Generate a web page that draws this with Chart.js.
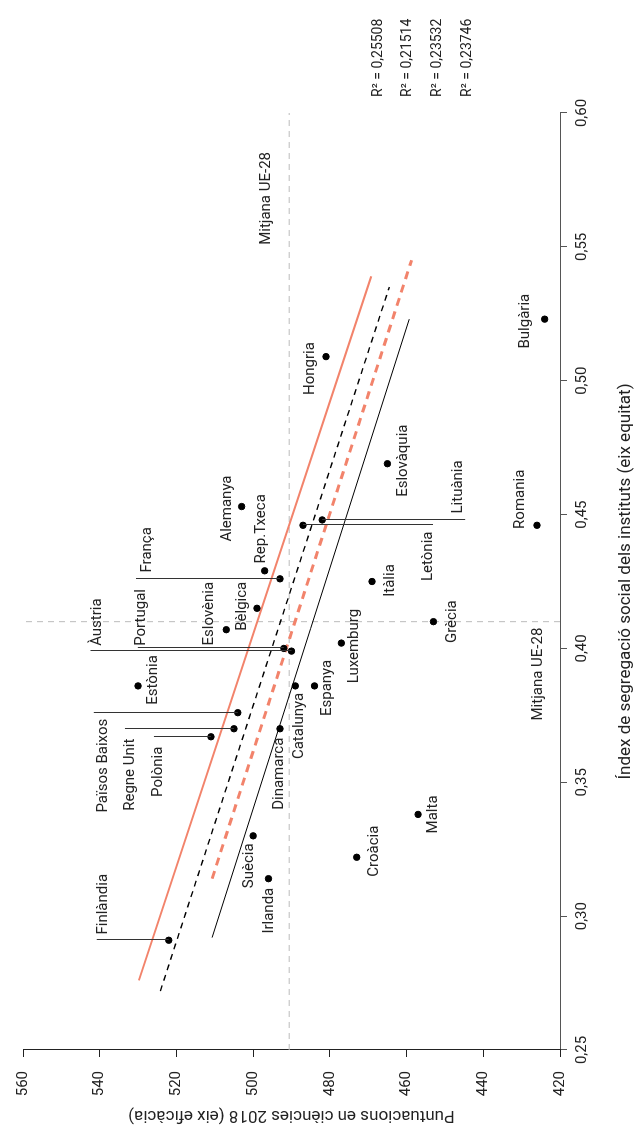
<!DOCTYPE html>
<html>
<head>
<meta charset="utf-8">
<script src="https://cdn.jsdelivr.net/npm/chart.js@4.4.0/dist/chart.umd.min.js"></script>
<style>
html,body{margin:0;padding:0;background:#fff;overflow:hidden;width:637px;height:1135px;}
#wrap{position:absolute;left:0;top:0;width:1135px;height:637px;transform-origin:0 0;transform:translate(0,1135px) rotate(-90deg);}
</style>
</head>
<body>
<div id="wrap"><canvas id="c" width="1135" height="637"></canvas></div>
<script>
// data
const countries = ['Alemanya','Rep.Txeca','França','Bèlgica','Eslovènia','Portugal','Àustria','Estònia','Catalunya','Espanya',
  'Luxemburg','Letònia','Lituània','Països Baixos','Regne Unit','Polònia','Dinamarca','Suècia','Irlanda','Finlàndia',
  'Croàcia','Malta','Hongria','Eslovàquia','Itàlia','Grècia','Romania','Bulgària'];
const segIndex = [0.453,0.429,0.426,0.415,0.407,0.400,0.399,0.386,0.386,0.386,
  0.402,0.446,0.448,0.376,0.370,0.367,0.370,0.330,0.314,0.291,
  0.322,0.338,0.509,0.469,0.425,0.410,0.446,0.523];
const science = [503,497,493,499,507,492,490,530,489,484,
  477,487,482,504,505,511,493,500,496,522,
  473,457,481,465,469,453,426,424];

const euMeanScore = 490.6;
const euMeanSeg = 0.410;

// regression lines (end points)
const fit1Seg = [0.276, 0.539], fit1Score = [529.8, 469.2];   // salmon solid
const fit2Seg = [0.272, 0.535], fit2Score = [524.2, 464.5];   // black dashed
const fit3Seg = [0.314, 0.545], fit3Score = [510.7, 458.7];   // salmon dashed
const fit4Seg = [0.292, 0.523], fit4Score = [510.7, 459.3];   // black thin
const r2Values = ['0,25508','0,21514','0,23532','0,23746'];

const xTicks = [0.25,0.30,0.35,0.40,0.45,0.50,0.55,0.60];
const yTicks = [420,440,460,480,500,520,540,560];

// label placement: [dx, dy, leader length]
const place = {
  'Alemanya':[-2,-14,0], 'Rep.Txeca':[42,-3,0], 'França':[29,-133,-144], 'Bèlgica':[2,-15,0],
  'Eslovènia':[16,-17,0], 'Portugal':[31,-143,-146], 'Àustria':[29,-194,-201], 'Estònia':[6,15,0],
  'Catalunya':[-40,4,0], 'Espanya':[-2,13,0], 'Luxemburg':[-3,13,0], 'Letònia':[-31,125,130],
  'Lituània':[33,136,143], 'Països Baixos':[-53,-135,-144], 'Regne Unit':[-46,-104,-109],
  'Polònia':[-35,-53,-57], 'Dinamarca':[-45,-1,0], 'Suècia':[-30,-4,0], 'Irlanda':[-32,1,0],
  'Finlàndia':[36,-66,-72], 'Croàcia':[6,18,0], 'Malta':[0,15,0], 'Hongria':[-12,-16,0],
  'Eslovàquia':[3,16,0], 'Itàlia':[1,18,0], 'Grècia':[0,19,0], 'Romania':[26,-17,0], 'Bulgària':[-2,-19,0]
};

const SALMON = '#f2836b';
const FONT = 'Roboto';

function pairs(xs, ys) { return xs.map((v, i) => ({x: v, y: ys[i]})); }

const labelPlugin = {
  id: 'countryLabels',
  afterDatasetsDraw(chart) {
    const {ctx, chartArea, scales: {x, y}} = chart;
    ctx.save();
    ctx.strokeStyle = '#333';
    ctx.lineWidth = 1;
    ctx.fillStyle = '#222';
    ctx.font = '15px ' + FONT;
    ctx.textAlign = 'center';
    ctx.textBaseline = 'middle';
    countries.forEach((name, i) => {
      const px = x.getPixelForValue(segIndex[i]);
      const py = y.getPixelForValue(science[i]);
      const p = place[name];
      if (p[2]) {
        ctx.beginPath();
        ctx.moveTo(Math.round(px) + 0.5, py);
        ctx.lineTo(Math.round(px) + 0.5, py + p[2]);
        ctx.stroke();
      }
      ctx.fillText(name, px + p[0], py + p[1]);
    });
    // mean labels
    const my = y.getPixelForValue(euMeanScore);
    ctx.textAlign = 'right';
    ctx.fillText('Mitjana UE-28', chartArea.right - 39, my - 23);
    const mx = x.getPixelForValue(euMeanSeg);
    ctx.fillText('Mitjana UE-28', mx - 6, chartArea.bottom - 22);
    // R² list
    ctx.textAlign = 'left';
    ctx.font = '14px ' + FONT;
    r2Values.forEach((v, i) => {
      ctx.fillText('R² = ' + v, chartArea.right + 16, 378 + i * 29.7);
    });
    ctx.restore();
  }
};

new Chart(document.getElementById('c'), {
  type: 'scatter',
  data: {
    datasets: [
      {data: pairs(segIndex, science), backgroundColor: '#000', borderColor: '#000', pointRadius: 3.2, pointHoverRadius: 3.2},
      {type: 'line', data: pairs(fit1Seg, fit1Score), borderColor: SALMON, borderWidth: 2, pointRadius: 0, fill: false},
      {type: 'line', data: pairs(fit2Seg, fit2Score), borderColor: '#000', borderWidth: 1.4, borderDash: [6, 5], pointRadius: 0, fill: false},
      {type: 'line', data: pairs(fit3Seg, fit3Score), borderColor: SALMON, borderWidth: 3, borderDash: [8, 6], pointRadius: 0, fill: false},
      {type: 'line', data: pairs(fit4Seg, fit4Score), borderColor: '#000', borderWidth: 1, pointRadius: 0, fill: false},
      {type: 'line', data: pairs([0.25, 0.60], [euMeanScore, euMeanScore]), borderColor: '#bbb', borderWidth: 1, borderDash: [6, 5], pointRadius: 0, fill: false},
      {type: 'line', data: pairs([euMeanSeg, euMeanSeg], [420, 560]), borderColor: '#bbb', borderWidth: 1, borderDash: [6, 5], pointRadius: 0, fill: false}
    ]
  },
  options: {
    responsive: false,
    animation: false,
    devicePixelRatio: 1,
    layout: {padding: {left: 0, right: 113, top: 17, bottom: 0}},
    plugins: {legend: {display: false}, tooltip: {enabled: false}},
    scales: {
      x: {
        type: 'linear', min: 0.25, max: 0.60,
        afterFit(scale) { scale.height = 77; },
        afterBuildTicks(scale) { scale.ticks = xTicks.map(v => ({value: v})); },
        ticks: {
          color: '#222', font: {family: FONT, size: 15}, padding: 6, maxRotation: 0,
          callback: v => v.toFixed(2).replace('.', ',')
        },
        grid: {drawOnChartArea: false, tickLength: 7, color: '#555'},
        border: {color: '#555'},
        title: {display: true, text: 'Índex de segregació social dels instituts (eix equitat)', color: '#222',
          font: {family: FONT, size: 17}, padding: {top: 0, bottom: 1}}
      },
      y: {
        type: 'linear', min: 420, max: 560,
        afterFit(scale) { scale.width = 85; },
        afterBuildTicks(scale) { scale.ticks = yTicks.map(v => ({value: v})); },
        ticks: {color: '#222', font: {family: FONT, size: 15}, padding: 14},
        grid: {drawOnChartArea: false, tickLength: 7, color: '#222'},
        border: {color: '#222'},
        title: {display: true, text: 'Puntuacions en ciències 2018 (eix eficàcia)', color: '#222',
          font: {family: FONT, size: 17}, padding: {top: 10, bottom: 0}}
      }
    }
  },
  plugins: [labelPlugin]
});
</script>
</body>
</html>
